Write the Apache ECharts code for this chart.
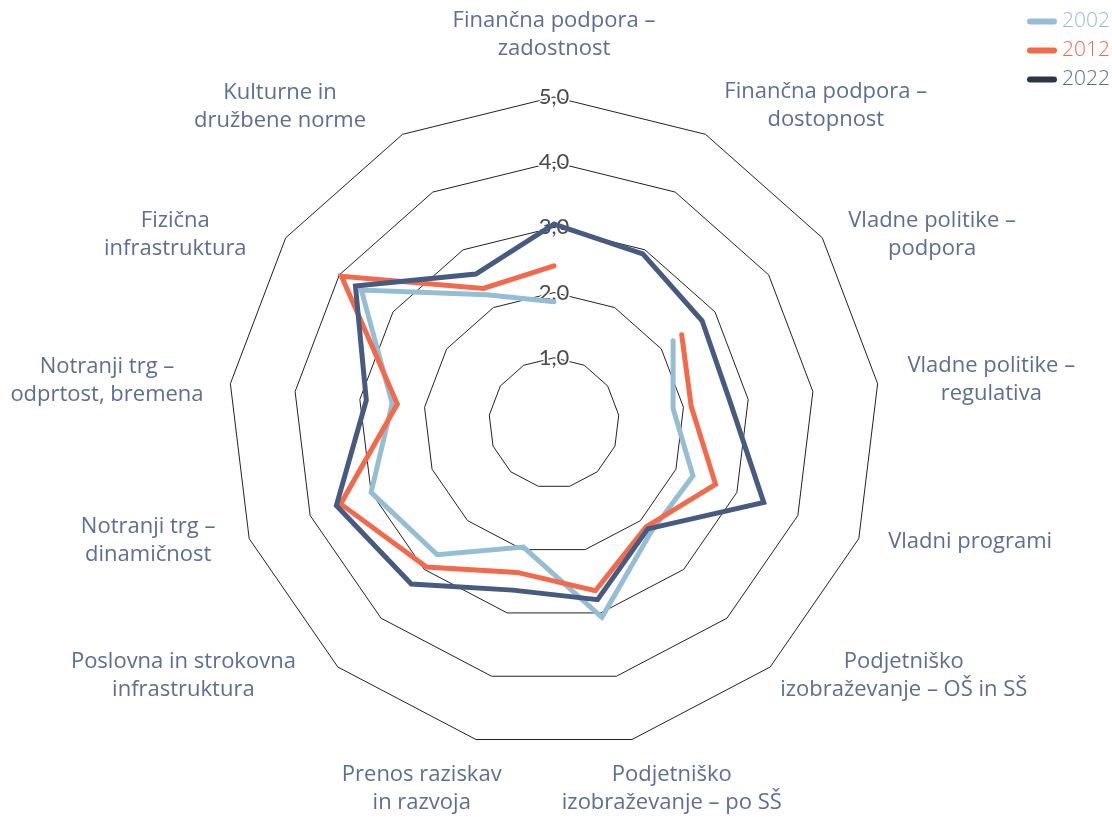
<!DOCTYPE html>
<html>
<head>
<meta charset="utf-8">
<script src="https://cdn.jsdelivr.net/npm/echarts@6/dist/echarts.min.js"></script>
<style>
html, body { margin: 0; padding: 0; background: #fff; }
#chart { width: 1112px; height: 818px; }
</style>
</head>
<body>
<div id="chart"></div>
<script>
// axes, clockwise from the top
var categories = [
    'Finančna podpora –\nzadostnost',
    'Finančna podpora –\ndostopnost',
    'Vladne politike –\npodpora',
    'Vladne politike –\nregulativa',
    'Vladni programi',
    'Podjetniško\nizobraževanje – OŠ in SŠ',
    'Podjetniško\nizobraževanje – po SŠ',
    'Prenos raziskav\nin razvoja',
    'Poslovna in strokovna\ninfrastruktura',
    'Notranji trg –\ndinamičnost',
    'Notranji trg –\nodprtost, bremena',
    'Fizična\ninfrastruktura',
    'Kulturne in\ndružbene norme'
];
var years = ['2002', '2012', '2022'];
var values2002 = [1.86, null, 2.22, 1.84, 2.28, 2.24, 3.07, 1.96, 2.70, 3.00, 2.50, 3.59, 2.22];
var values2012 = [2.41, null, 2.38, 2.12, 2.65, 2.13, 2.65, 2.36, 2.95, 3.50, 2.42, 3.96, 2.33];
var values2022 = [3.05, 2.93, 2.76, 2.72, 3.44, 2.17, 2.79, 2.64, 3.30, 3.57, 2.90, 3.70, 2.58];
var scaleMax = 5;

var lineColors = ['#95bdd4', '#f26a4b', '#475a80'];
var legendTextColors = ['#95bdd4', '#f26a4b', '#5b6a91'];
var nameFont = '"Open Sans", "Noto Sans", sans-serif';
var nameColor = '#5f6d95';
var center = [554, 423];
var radius = 326;

// name placement per axis (same clockwise order as categories)
var namePlace = [
    { gap: 34 },
    { gap: 32, padding: [0, 0, 0, 4] },
    { gap: 6, padding: [0, 0, 0, 21] },
    { gap: 30 },
    { gap: 10, padding: [0, 0, 0, 20] },
    { gap: 12, padding: [0, 0, 0, 2] },
    { gap: 22, align: 'center', verticalAlign: 'top', padding: [0, 0, 0, 69] },
    { gap: 22, align: 'center', verticalAlign: 'top', padding: [0, 98, 0, 0] },
    { gap: 12, padding: [0, 34, 0, 0] },
    { gap: 5, padding: [0, 29, 0, 0] },
    { gap: 27 },
    { gap: 5, padding: [0, 35, 0, 0] },
    { gap: 31, padding: [0, 22, 0, 0] }
];

// radar goes counter-clockwise, so the list is walked backwards after the top axis
var order = [0];
for (var k = categories.length - 1; k >= 1; k--) order.push(k);

var indicators = order.map(function (k, pos) {
    var p = namePlace[k];
    var ts = {};
    if (p.align) ts.align = p.align;
    if (p.verticalAlign) ts.verticalAlign = p.verticalAlign;
    if (p.padding) ts.padding = p.padding;
    var ind = {
        name: categories[k],
        min: 0,
        max: scaleMax,
        nameGap: p.gap,
        nameTextStyle: ts
    };
    if (pos === 0) {
        ind.axisLabel = {
            show: true,
            showMinLabel: false,
            margin: 0,
            align: 'center',
            verticalAlign: 'middle',
            fontFamily: 'Lato, "Open Sans", sans-serif',
            fontSize: 22,
            color: '#4a4a4a',
            textBorderColor: '#fff',
            textBorderWidth: 3,
            formatter: function (v) {
                return v.toFixed(1).replace('.', ',');
            }
        };
    }
    return ind;
});

// closed loop through the polar axis, nulls leave gaps
function loop(values) {
    var pts = [];
    for (var i = 0; i <= values.length; i++) {
        var v = values[i % values.length];
        pts.push([v == null ? '-' : v, i]);
    }
    return pts;
}

var seriesValues = [values2002, values2012, values2022];
var series = years.map(function (y, i) {
    return {
        name: y,
        type: 'line',
        coordinateSystem: 'polar',
        data: loop(seriesValues[i]),
        symbol: 'none',
        smooth: false,
        connectNulls: false,
        silent: true,
        z: 3,
        itemStyle: { color: lineColors[i] },
        lineStyle: { width: 5, color: lineColors[i], cap: 'round', join: 'miter' }
    };
});

var capsule = 'path://M3,0L27,0A3,3,0,0,1,27,6L3,6A3,3,0,0,1,3,0Z';

var option = {
    animation: false,
    backgroundColor: '#fff',
    legend: {
        orient: 'vertical',
        left: 1022,
        top: 6,
        itemWidth: 30,
        itemHeight: 6,
        itemGap: 8,
        icon: capsule,
        itemStyle: { borderWidth: 0 },
        textStyle: { fontFamily: nameFont, fontSize: 21, fontWeight: 300 },
        data: years.map(function (y, i) {
            var d = { name: y, textStyle: { color: legendTextColors[i] } };
            if (i === 2) d.itemStyle = { color: '#2f3549', borderWidth: 0 };
            return d;
        })
    },
    radar: {
        z: 1,
        center: center,
        radius: radius,
        startAngle: 90,
        splitNumber: 5,
        shape: 'polygon',
        indicator: indicators,
        axisName: {
            color: nameColor,
            fontFamily: nameFont,
            fontSize: 22,
            lineHeight: 28,
            formatter: function (name) {
                return name.split('\n').map(function (s) {
                    return '{c|' + s + '}';
                }).join('\n');
            },
            rich: {
                c: {
                    align: 'center',
                    color: nameColor,
                    fontFamily: nameFont,
                    fontSize: 22,
                    lineHeight: 28
                }
            }
        },
        axisLine: { show: false },
        axisTick: { show: false },
        axisLabel: { show: false },
        splitArea: { show: false },
        splitLine: { lineStyle: { color: '#222', width: 1 } }
    },
    polar: { center: center, radius: radius },
    angleAxis: { type: 'value', min: 0, max: categories.length, startAngle: 90, clockwise: true, show: false },
    radiusAxis: { type: 'value', min: 0, max: scaleMax, show: false },
    series: series
};

var chart = echarts.init(document.getElementById('chart'));
chart.setOption(option);
</script>
</body>
</html>
